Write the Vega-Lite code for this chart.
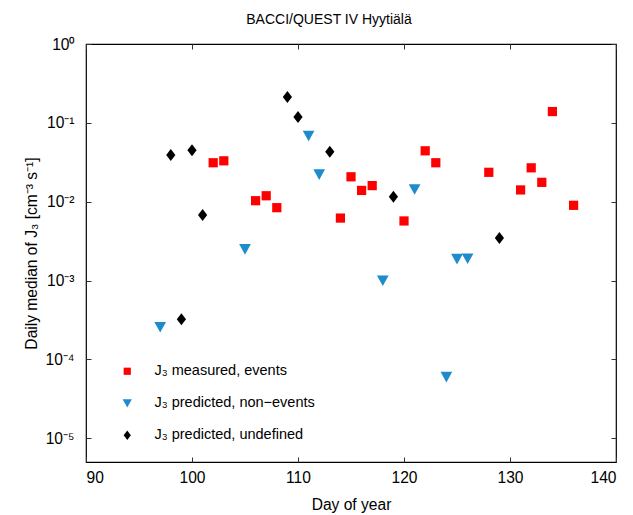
{
  "$schema": "https://vega.github.io/schema/vega-lite/v6.json",
  "autosize": "none",
  "width": 530,
  "height": 418,
  "padding": {"left": 86, "top": 44, "right": 17, "bottom": 53},
  "background": "white",
  "config": {
    "font": "Liberation Sans",
    "view": {"stroke": "black", "strokeWidth": 1.2},
    "axis": {"grid": false, "domain": false, "labelFont": "Liberation Sans", "titleFont": "Liberation Sans", "labelFontSize": 15.6, "titleFontSize": 15.6, "titleFontWeight": "normal", "labelColor": "black", "titleColor": "black", "tickColor": "#333", "tickSize": -5, "tickWidth": 1}
  },
  "title": {"text": "BACCI/QUEST IV Hyytiälä", "fontSize": 14, "fontWeight": "normal", "font": "Liberation Sans", "color": "black", "offset": 10, "dx": -22},
  "data": {
    "values": [
      {"day": 102, "j3": 0.0312, "group": "J₃ measured, events"},
      {"day": 103, "j3": 0.033, "group": "J₃ measured, events"},
      {"day": 106, "j3": 0.0103, "group": "J₃ measured, events"},
      {"day": 107, "j3": 0.0119, "group": "J₃ measured, events"},
      {"day": 108, "j3": 0.0084, "group": "J₃ measured, events"},
      {"day": 114, "j3": 0.0062, "group": "J₃ measured, events"},
      {"day": 115, "j3": 0.0207, "group": "J₃ measured, events"},
      {"day": 116, "j3": 0.0139, "group": "J₃ measured, events"},
      {"day": 117, "j3": 0.016, "group": "J₃ measured, events"},
      {"day": 120, "j3": 0.0057, "group": "J₃ measured, events"},
      {"day": 122, "j3": 0.0442, "group": "J₃ measured, events"},
      {"day": 123, "j3": 0.0312, "group": "J₃ measured, events"},
      {"day": 128, "j3": 0.0236, "group": "J₃ measured, events"},
      {"day": 131, "j3": 0.0141, "group": "J₃ measured, events"},
      {"day": 132, "j3": 0.0269, "group": "J₃ measured, events"},
      {"day": 133, "j3": 0.0176, "group": "J₃ measured, events"},
      {"day": 134, "j3": 0.139, "group": "J₃ measured, events"},
      {"day": 136, "j3": 0.009, "group": "J₃ measured, events"},
      {"day": 97, "j3": 0.000257, "group": "J₃ predicted, non−events"},
      {"day": 105, "j3": 0.0025, "group": "J₃ predicted, non−events"},
      {"day": 111, "j3": 0.0685, "group": "J₃ predicted, non−events"},
      {"day": 112, "j3": 0.0222, "group": "J₃ predicted, non−events"},
      {"day": 118, "j3": 0.001, "group": "J₃ predicted, non−events"},
      {"day": 121, "j3": 0.01436, "group": "J₃ predicted, non−events"},
      {"day": 124, "j3": 0.00006, "group": "J₃ predicted, non−events"},
      {"day": 125, "j3": 0.00188, "group": "J₃ predicted, non−events"},
      {"day": 126, "j3": 0.0019, "group": "J₃ predicted, non−events"},
      {"day": 98, "j3": 0.039, "group": "J₃ predicted, undefined"},
      {"day": 99, "j3": 0.000324, "group": "J₃ predicted, undefined"},
      {"day": 100, "j3": 0.0448, "group": "J₃ predicted, undefined"},
      {"day": 101, "j3": 0.0068, "group": "J₃ predicted, undefined"},
      {"day": 109, "j3": 0.213, "group": "J₃ predicted, undefined"},
      {"day": 110, "j3": 0.119, "group": "J₃ predicted, undefined"},
      {"day": 113, "j3": 0.043, "group": "J₃ predicted, undefined"},
      {"day": 119, "j3": 0.01157, "group": "J₃ predicted, undefined"},
      {"day": 129, "j3": 0.00347, "group": "J₃ predicted, undefined"}
    ]
  },
  "layer": [
    {
      "mark": {"type": "point", "filled": true, "opacity": 1, "size": 85},
      "encoding": {
        "x": {"field": "day", "type": "quantitative", "scale": {"domain": [90, 140], "nice": false},
              "axis": {"title": "Day of year", "values": [90, 100, 110, 120, 130, 140], "titlePadding": 12, "labelPadding": 13}},
        "y": {"field": "j3", "type": "quantitative", "scale": {"type": "log", "domain": [0.000005, 1], "nice": false},
              "axis": {"title": "Daily median of J₃ [cm⁻³ s⁻¹]", "values": [0.00001, 0.0001, 0.001, 0.01, 0.1, 1],
                       "labelExpr": "['10⁰','10⁻¹','10⁻²','10⁻³','10⁻⁴','10⁻⁵'][round(-log(datum.value)/LN10)]",
                       "labelPadding": 17, "titlePadding": 5}},
        "color": {"field": "group", "type": "nominal",
                  "scale": {"domain": ["J₃ measured, events", "J₃ predicted, non−events", "J₃ predicted, undefined"], "range": ["#ff0000", "#1e8bcd", "#000000"]},
                  "legend": {"title": null, "orient": "none", "legendX": 34, "legendY": 320, "labelFontSize": 14.5, "labelFont": "Liberation Sans", "labelColor": "black", "labelLimit": 400, "symbolSize": 52, "rowPadding": 17, "labelOffset": 20, "padding": 0, "symbolStrokeWidth": 0}},
        "shape": {"field": "group", "type": "nominal",
                  "scale": {"domain": ["J₃ measured, events", "J₃ predicted, non−events", "J₃ predicted, undefined"], "range": ["square", "M-1.27,-1.1L1.27,-1.1L0,1.2Z", "M0,-1.3L1.0,0L0,1.3L-1.0,0Z"]}}
      }
    },
    {
      "mark": {"type": "point", "opacity": 0},
      "encoding": {
        "x": {"field": "day", "type": "quantitative", "axis": {"orient": "top", "labels": false, "title": null, "values": [90, 100, 110, 120, 130, 140]}},
        "y": {"field": "j3", "type": "quantitative", "scale": {"type": "log"}, "axis": {"orient": "right", "labels": false, "title": null, "values": [0.00001, 0.0001, 0.001, 0.01, 0.1, 1]}}
      }
    }
  ],
  "resolve": {"axis": {"x": "independent", "y": "independent"}}
}
